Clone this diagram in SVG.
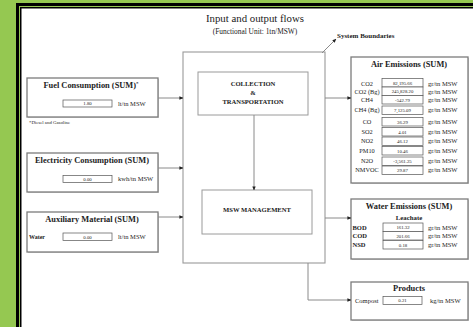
<svg xmlns="http://www.w3.org/2000/svg" width="473" height="327" viewBox="0 0 473 327">
<defs>
<style>
.ln{stroke:#9a9a9a;stroke-width:1.1;fill:none}
.ar{stroke:#8a8a8a;stroke-width:1;fill:none;marker-end:url(#ah)}
.box{fill:#fff;stroke:#7c7c7c;stroke-width:1.3}
.ibox{fill:#fff;stroke:#9a9a9a;stroke-width:1}
.sh{fill:#d4d4d4}
.cell{fill:#fff;stroke:#555;stroke-width:0.7}
.t{font-family:"Liberation Serif","Times New Roman",serif;fill:#222}
.b{font-weight:bold}
.ti{font-size:8.4px;font-weight:bold;text-anchor:middle}
.lab{font-size:6.3px;text-anchor:middle}
.val{font-size:4.8px;text-anchor:middle}
.un{font-size:6.5px}
.ct{font-size:6.6px;font-weight:bold;text-anchor:middle}
</style>
<marker id="ah" markerWidth="4" markerHeight="4" refX="3.6" refY="2" orient="auto" markerUnits="userSpaceOnUse"><path d="M0,0.3 L4,2 L0,3.7 z" fill="#222"/></marker>
</defs>
<rect width="473" height="327" fill="#95c851"/>
<rect x="16" y="3" width="470" height="340" fill="#000"/>
<rect x="19" y="6" width="470" height="340" fill="#95c851"/>
<rect x="20" y="7" width="470" height="340" fill="#000"/>
<rect x="21.5" y="8.5" width="470" height="340" fill="#fff"/>

<g id="title" class="t">
<text x="255" y="21.5" font-size="10.8" text-anchor="middle">Input and output flows</text>
<text x="255" y="34" font-size="7.4" text-anchor="middle">(Functional Unit: 1tn/MSW)</text>
</g>

<g id="boundary">
<rect x="183" y="52" width="142" height="211" class="ln"/>
<text class="t b" x="337" y="37.5" font-size="7">System Boundaries</text>
</g>

<g id="collection">
<rect x="198" y="72" width="110" height="43" class="ibox"/>
<text class="t ct" x="253" y="86">COLLECTION</text>
<text class="t ct" x="253" y="95">&amp;</text>
<text class="t ct" x="253" y="104">TRANSPORTATION</text>
</g>

<g id="msw">
<rect x="202" y="190" width="110" height="44" class="ibox"/>
<text class="t ct" x="257" y="212">MSW MANAGEMENT</text>
</g>

<g id="fuel">
<rect x="28" y="79" width="131" height="39" class="sh"/>
<rect x="27" y="78" width="131" height="39" class="box"/>
<text class="t ti" x="91" y="87.5">Fuel Consumption (SUM)<tspan font-size="5" dy="-2.5">*</tspan></text>
<rect x="63" y="100" width="49" height="7" class="cell"/>
<text class="t val" x="87.5" y="105.3">1.80</text>
<text class="t un" x="118" y="105.5">lt/tn MSW</text>
<text class="t" x="29" y="124" font-size="4.8">*Diesel and Gasoline</text>
</g>

<g id="electricity">
<rect x="28" y="154" width="131" height="39" class="sh"/>
<rect x="27" y="153" width="131" height="39" class="box"/>
<text class="t ti" x="92" y="162.5">Electricity Consumption (SUM)</text>
<rect x="63" y="175.5" width="49" height="7" class="cell"/>
<text class="t val" x="87.5" y="180.8">0.00</text>
<text class="t un" x="118" y="181">kwh/tn MSW</text>
</g>

<g id="auxiliary">
<rect x="28" y="213" width="131" height="40" class="sh"/>
<rect x="27" y="212" width="131" height="40" class="box"/>
<text class="t ti" x="92" y="221.5">Auxiliary Material (SUM)</text>
<text class="t b" x="29" y="239" font-size="6">Water</text>
<rect x="63" y="233" width="49" height="7.5" class="cell"/>
<text class="t val" x="87.5" y="238.5">0.00</text>
<text class="t un" x="118" y="239">lt/tn MSW</text>
</g>

<g id="air">
<rect x="352" y="58" width="117" height="126" class="sh"/>
<rect x="351" y="57" width="117" height="126" class="box"/>
<text class="t ti" x="409" y="66.5">Air Emissions (SUM)</text>
<g class="t">
<rect x="382" y="78.5" width="41" height="8.5" class="cell"/><text class="lab" x="367" y="85.5">CO2</text><text class="val" x="402.5" y="84.5">82,195.66</text><text class="un" x="428" y="85.5">gr/tn MSW</text>
<rect x="382" y="87" width="41" height="8.5" class="cell"/><text class="lab" x="367" y="93.5">CO2 (Bg)</text><text class="val" x="402.5" y="93">245,828.20</text><text class="un" x="428" y="93.5">gr/tn MSW</text>
<rect x="382" y="95.5" width="41" height="8.5" class="cell"/><text class="lab" x="367" y="101.5">CH4</text><text class="val" x="402.5" y="101.5">-542.79</text><text class="un" x="428" y="101.5">gr/tn MSW</text>
<rect x="382" y="106" width="41" height="8.5" class="cell"/><text class="lab" x="367" y="112">CH4 (Bg)</text><text class="val" x="402.5" y="112">7,125.09</text><text class="un" x="428" y="112">gr/tn MSW</text>
<rect x="382" y="117.5" width="41" height="8.5" class="cell"/><text class="lab" x="367" y="123.5">CO</text><text class="val" x="402.5" y="123.5">36.29</text><text class="un" x="428" y="123.5">gr/tn MSW</text>
<rect x="382" y="127.5" width="41" height="8.5" class="cell"/><text class="lab" x="367" y="133.5">SO2</text><text class="val" x="402.5" y="133.5">4.01</text><text class="un" x="428" y="133.5">gr/tn MSW</text>
<rect x="382" y="137" width="41" height="8.5" class="cell"/><text class="lab" x="367" y="143">NO2</text><text class="val" x="402.5" y="143">46.12</text><text class="un" x="428" y="143">gr/tn MSW</text>
<rect x="382" y="146.5" width="41" height="8.5" class="cell"/><text class="lab" x="367" y="152.5">PM10</text><text class="val" x="402.5" y="152.5">10.46</text><text class="un" x="428" y="152.5">gr/tn MSW</text>
<rect x="382" y="157" width="41" height="8.5" class="cell"/><text class="lab" x="367" y="163">N2O</text><text class="val" x="402.5" y="163">-3,561.25</text><text class="un" x="428" y="163">gr/tn MSW</text>
<rect x="382" y="166" width="41" height="8.5" class="cell"/><text class="lab" x="367" y="172">NMVOC</text><text class="val" x="402.5" y="172">29.87</text><text class="un" x="428" y="172">gr/tn MSW</text>
</g>
</g>

<g id="water">
<rect x="352" y="200" width="117" height="60" class="sh"/>
<rect x="351" y="199" width="117" height="60" class="box"/>
<text class="t ti" x="409" y="209">Water Emissions (SUM)</text>
<text class="t b" x="409" y="220" font-size="6.8" text-anchor="middle">Leachate</text>
<g class="t">
<rect x="383" y="223" width="40" height="8.5" class="cell"/><text class="b" x="352.5" y="229.5" font-size="6.5">BOD</text><text class="val" x="403" y="229">161.32</text><text class="un" x="428" y="229.5">gr/tn MSW</text>
<rect x="383" y="231.5" width="40" height="8.5" class="cell"/><text class="b" x="352.5" y="238" font-size="6.5">COD</text><text class="val" x="403" y="237.5">201.66</text><text class="un" x="428" y="238">gr/tn MSW</text>
<rect x="383" y="240.5" width="40" height="8.5" class="cell"/><text class="b" x="352.5" y="247" font-size="6.5">NSD</text><text class="val" x="403" y="246.5">0.18</text><text class="un" x="428" y="247">gr/tn MSW</text>
</g>
</g>

<g id="products">
<rect x="352" y="283" width="117" height="38" class="sh"/>
<rect x="351" y="282" width="117" height="38" class="box"/>
<text class="t ti" x="409" y="291">Products</text>
<text class="t" x="355" y="302.5" font-size="6.5">Compost</text>
<rect x="383" y="296.5" width="39" height="8" class="cell"/>
<text class="t val" x="402.5" y="302">0.21</text>
<text class="t un" x="430" y="302.5">kg/tn MSW</text>
</g>

<g id="connectors">
<path class="ar" d="M158,98 H183"/>
<path class="ar" d="M158,168 H183"/>
<path class="ar" d="M158,217 H183"/>
<path class="ar" d="M254,115 V190"/>
<path class="ar" d="M325,98 H351"/>
<path class="ar" d="M325,218 H351"/>
<path class="ar" d="M308,263 V300 H351"/>
<path class="ar" d="M322,53 L336,39"/>
</g>
</svg>
